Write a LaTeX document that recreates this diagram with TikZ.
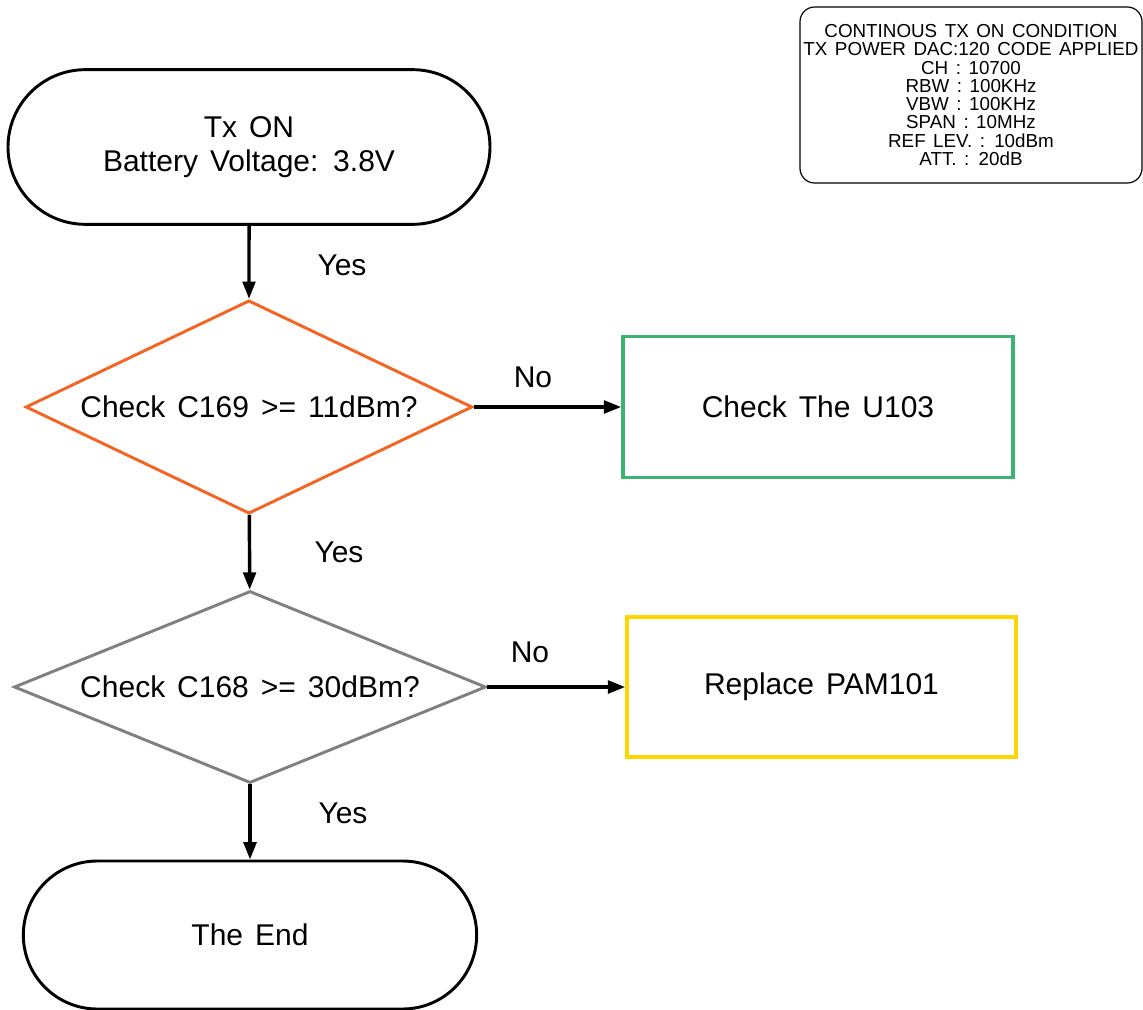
\documentclass[tikz,border=0pt]{standalone}
\usepackage{fontspec}
\setmainfont{Liberation Sans}
\usetikzlibrary{shapes.geometric,shapes.misc,arrows.meta}

\definecolor{chkorange}{RGB}{242,101,34}
\definecolor{chkgray}{RGB}{128,128,128}
\definecolor{chkgreen}{RGB}{60,179,113}
\definecolor{chkgold}{RGB}{255,215,0}

\tikzset{
  flowtext/.style={font={\fontsize{22.5}{26}\selectfont\spaceskip=0.4em\relax}, align=center},
  terminal/.style={flowtext, rounded rectangle, draw=black, line width=2.2pt, inner sep=0pt},
  decision/.style={flowtext, diamond, shape aspect=2, line width=2.2pt, inner sep=0pt},
  action/.style={flowtext, rectangle, line width=2.6pt, inner sep=0pt},
  flow/.style={line width=2.6pt, -{Triangle[length=13pt,width=9.5pt]}},
  infobox/.style={draw=black, line width=0.9pt, rounded corners=11pt, align=center, inner sep=0pt,
    font={\fontsize{14.1}{13.7}\selectfont\spaceskip=0.4em\relax}},
}

\begin{document}
\begin{tikzpicture}[x=0.75pt, y=-0.75pt]
% everything is laid out in pixels, y running downwards
\useasboundingbox (0,0) rectangle (1143,1010);
% The test condition box
\node[infobox, minimum width=256.5pt, minimum height=132pt] (cond) at (971,95)
  {CONTINOUS TX ON CONDITION\\TX POWER DAC:120 CODE APPLIED\\CH : 10700\\RBW : 100KHz\\VBW : 100KHz\\SPAN : 10MHz\\REF LEV. : 10dBm\\ATT. : 20dB};
% Start and end
\node[terminal, minimum width=361.5pt, minimum height=116pt] (start) at (249,147) {Tx ON\\Battery Voltage: 3.8V};
\node[terminal, minimum width=340pt, minimum height=111pt] (theend) at (250,935) {The End};
% The two checks
\node[decision, draw=chkorange, minimum width=335pt, minimum height=160pt] (c169) at (249,407) {Check C169 >= 11dBm?};
\node[decision, draw=chkgray, minimum width=354pt, minimum height=144pt] (c168) at (250,687) {Check C168 >= 30dBm?};
% What to do when a check fails
\node[action, draw=chkgreen, minimum width=292.5pt, minimum height=105.75pt] (u103) at (818,407) {Check The U103};
\node[action, draw=chkgold, minimum width=291.75pt, minimum height=105pt] (pam) at (821.5,687) {Replace PAM101};
% Arrows
\draw[flow] (start) -- (c169);
\draw[flow] (c169) -- (c168);
\draw[flow] (c168) -- (theend);
\draw[flow] (c169.east) -- (u103.west);
\draw[flow] (c168.east) -- (pam.west);
% Labels on the arrows
\node[flowtext] (yes1) at (342,265) {Yes};
\node[flowtext] (yes2) at (339,552) {Yes};
\node[flowtext] (yes3) at (343,813) {Yes};
\node[flowtext] (no1) at (533,377) {No};
\node[flowtext] (no2) at (530,652) {No};
\end{tikzpicture}
\end{document}
